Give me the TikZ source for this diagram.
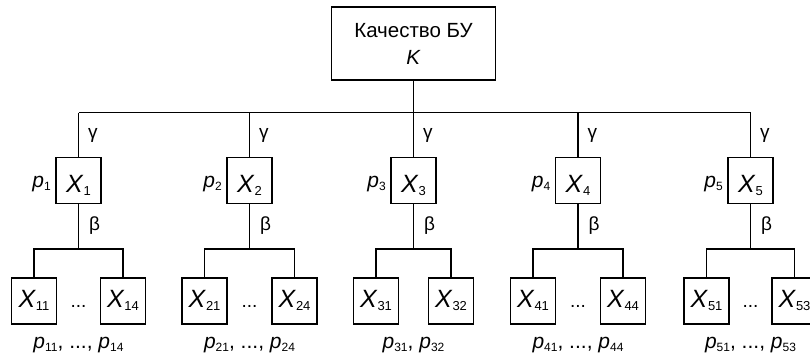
\documentclass[tikz,border=0pt]{standalone}
\usepackage{fontspec}
\setmainfont{Liberation Sans}
% lowered subscript digits, upright
\newcommand\lowsub[2][11]{\raisebox{-3.5pt}{\fontsize{#1}{#1}\selectfont #2}}
\newcommand\xvar[1]{\textit{X}\lowsub[13]{#1}}
\newcommand\pvar[1]{\textit{p}\lowsub[12]{#1}}

\begin{document}
\begin{tikzpicture}[x=1pt,y=-1pt,line width=1.3pt,
  box/.style={draw,line width=1.3pt,minimum width=45pt,minimum height=46pt,
    inner sep=0pt,font=\fontsize{25}{25}\selectfont,text depth=0pt},
  midbox/.style={box,text height=23pt},
  lowbox/.style={box,text height=12pt},
  greek/.style={font=\fontsize{19}{19}\selectfont,inner sep=0pt,anchor=west},
  plbl/.style={font=\fontsize{21}{21}\selectfont,inner sep=0pt},
  dotlbl/.style={font=\fontsize{19}{19}\selectfont,inner sep=0pt,anchor=base}]
\useasboundingbox (0,0) rectangle (810,359);
\clip (0,0) rectangle (810,359);

% root
\node[draw,minimum width=164pt,minimum height=73pt,align=center,inner sep=0pt,
  font=\fontsize{20.5}{27}\selectfont] (top) at (413.5,43.5) {Качество БУ\\\textit{K}};

\coordinate (bus) at (0,112.5);

% second level, branches and leaves
\foreach \i/\cx/\d/\a/\b/\sep in {1/78.5/44.5/11/14/{, ...,},
                                  2/249.5/45/21/24/{, ...,},
                                  3/413.5/37.5/31/32/{,},
                                  4/578/45/41/44/{, ...,},
                                  5/750.5/44/51/53/{, ...,}}{
  \node[midbox] (x\i) at (\cx,180.5) {\xvar{\i}};
  \node[plbl,anchor=base east] (p\i) at ([xshift=-4pt]x\i.west |- 0,187) {\pvar{\i}};
  \node[greek] (g\i) at (\cx+9,135) {γ};
  \node[greek] (b\i) at (\cx+10,226) {β};
  \draw (x\i.north) -- (x\i.north |- bus);
  \coordinate (sb\i) at (\cx,249);
  \node[lowbox] (x\i a) at (\cx-\d,301) {\xvar{\a}};
  \node[lowbox] (x\i b) at (\cx+\d,301) {\xvar{\b}};
  \draw (x\i.south) -- (sb\i);
  \draw (x\i a.north) |- (sb\i) -| (x\i b.north);
  \node[plbl,anchor=base] (q\i) at (\cx,348) {\pvar{\a}\sep{} \pvar{\b}};
}
\foreach \i in {1,2,4,5}{
  \node[dotlbl] (dots\i) at (x\i.center |- 0,307) {...};
}

\draw (top.south) -- (top.south |- bus);
\draw (x1.north |- bus) -- (x5.north |- bus);
\end{tikzpicture}
\end{document}
